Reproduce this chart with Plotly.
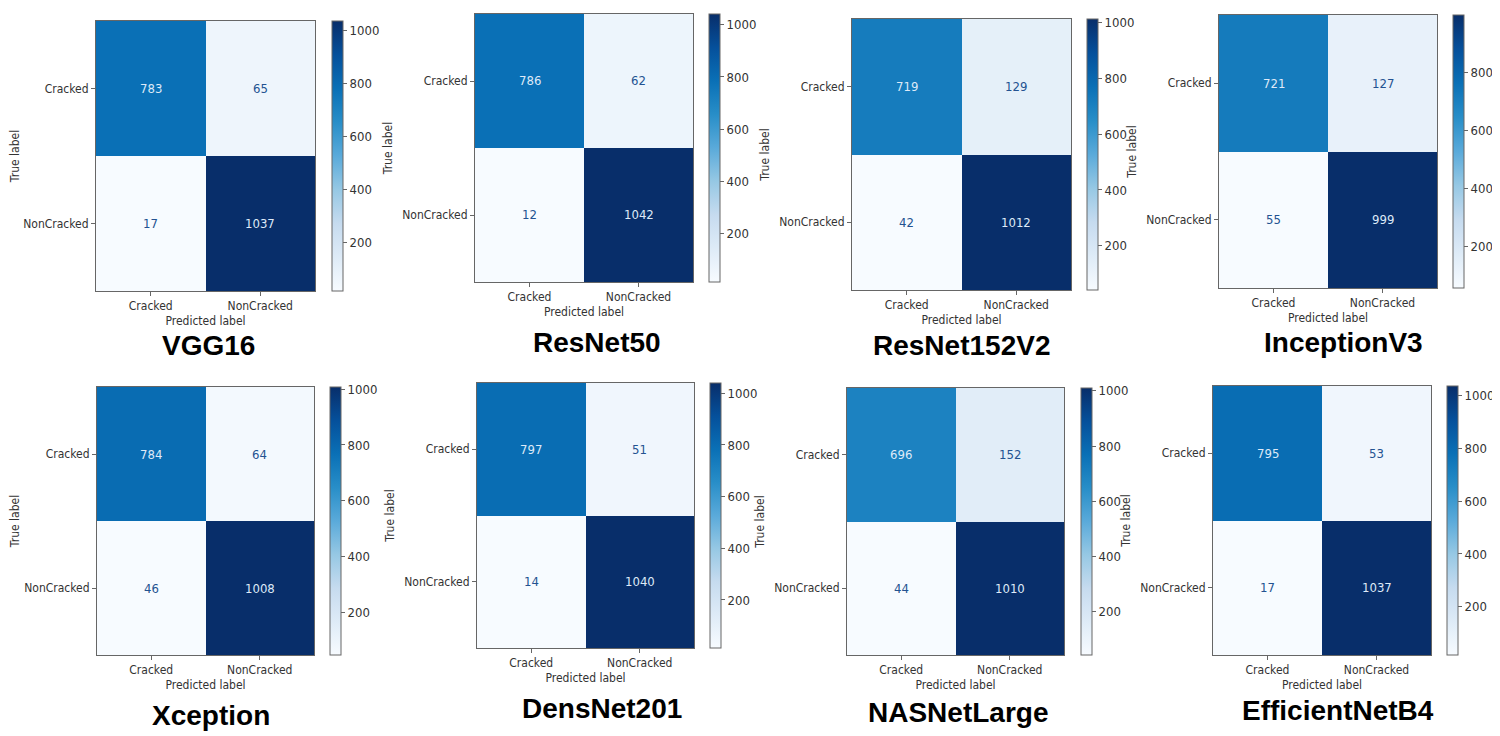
import plotly.graph_objects as go

# ---------------- data ----------------
models = ["VGG16", "ResNet50", "ResNet152V2", "InceptionV3",
          "Xception", "DensNet201", "NASNetLarge", "EfficientNetB4"]
classes = ["Cracked", "NonCracked"]
tp = [783, 786, 719, 721, 784, 797, 696, 795]      # true Cracked, pred Cracked
fn = [65, 62, 129, 127, 64, 51, 152, 53]           # true Cracked, pred NonCracked
fp = [17, 12, 42, 55, 46, 14, 44, 17]              # true NonCracked, pred Cracked
tn = [1037, 1042, 1012, 999, 1008, 1040, 1010, 1037]  # true NonCracked, pred NonCracked
cbar_dtick = 200

# ---------------- layout geometry (pixels in the screenshot) ----------------
PAGE_PAD = 8                      # default body margin of the html page
W, H = 1500 - PAGE_PAD, 736 - PAGE_PAD
# left, right, top, bottom of heatmap, colorbar left/right, title centre x/y
geom = [
    (96, 315, 21, 291, 332, 343, 208, 345),
    (475, 693, 14, 282, 709, 720, 597, 343),
    (852, 1071, 19, 290, 1087, 1098, 961, 345),
    (1219, 1437, 15, 288, 1453, 1464, 1343, 343),
    (97, 314, 387, 655, 330, 341, 211, 715),
    (477, 694, 383, 648, 710, 721, 602, 708),
    (847, 1064, 388, 655, 1081, 1092, 958, 712),
    (1213, 1431, 386, 655, 1447, 1458, 1338, 710),
]

blues = [
    [0.0, "rgb(247,251,255)"], [0.125, "rgb(222,235,247)"],
    [0.25, "rgb(198,219,239)"], [0.375, "rgb(150,200,228)"],
    [0.5, "rgb(90,170,218)"], [0.625, "rgb(40,142,200)"],
    [0.75, "rgb(10,112,182)"], [0.875, "rgb(5,80,155)"],
    [1.0, "rgb(8,46,106)"],
]
small_font = "DejaVu Sans Condensed, DejaVu Sans, sans-serif"
txt_col = "#333333"
line_col = "#666666"
light_txt = "rgb(222,234,248)"
dark_txt = "rgb(35,82,145)"


def px_x(v):
    return (v - PAGE_PAD) / W


def px_y(v):
    return 1 - (v - PAGE_PAD) / H


fig = go.Figure()
annotations = []
layout = dict(width=W, height=H,
              margin=dict(l=0, r=0, t=0, b=0, autoexpand=False),
              paper_bgcolor="white", plot_bgcolor="white", showlegend=False)

for i, name in enumerate(models):
    L, R, T, B, cl, cr, tcx, tcy = geom[i]
    z = [[tp[i], fn[i]], [fp[i], tn[i]]]
    zmin = min(min(r) for r in z)
    zmax = max(max(r) for r in z)
    thresh = (zmin + zmax) / 2
    ax = "" if i == 0 else str(i + 1)
    fig.add_trace(go.Heatmap(
        z=z, x=classes, y=classes, zmin=zmin, zmax=zmax,
        colorscale=blues, xaxis="x" + ax, yaxis="y" + ax,
        hoverinfo="skip",
        colorbar=dict(
            x=px_x(cl), xanchor="left", y=px_y((T + B) / 2), yanchor="middle",
            len=B - T, lenmode="pixels", thickness=cr - cl, thicknessmode="pixels",
            xpad=0, ypad=0, outlinewidth=1, outlinecolor=line_col,
            ticks="outside", ticklen=4, tickcolor=line_col,
            tick0=0, dtick=cbar_dtick,
            tickfont=dict(family=small_font, size=13, color=txt_col),
        ),
    ))
    common = dict(showline=True, mirror=True, linecolor=line_col, linewidth=1,
                  showgrid=False, zeroline=False, ticks="outside", ticklen=4,
                  tickcolor=line_col, type="category",
                  tickfont=dict(family=small_font, size=12, color=txt_col))
    layout["xaxis" + ax] = dict(
        common, domain=[px_x(L), px_x(R)], anchor="y" + ax, range=[-0.5, 1.5],
        title=dict(text="Predicted label", standoff=4,
                   font=dict(family=small_font, size=12, color=txt_col)))
    layout["yaxis" + ax] = dict(
        common, domain=[px_y(B), px_y(T)], anchor="x" + ax,
        range=[1.5, -0.5],
        title=dict(text="True label", standoff=7,
                   font=dict(family=small_font, size=12, color=txt_col)))
    for r, tc in enumerate(classes):
        for c, pc in enumerate(classes):
            v = z[r][c]
            annotations.append(dict(
                x=pc, y=tc, xref="x" + ax, yref="y" + ax, text=str(v),
                showarrow=False,
                font=dict(family=small_font, size=13,
                          color=light_txt if v > thresh else dark_txt)))
    annotations.append(dict(
        x=px_x(tcx), y=px_y(tcy), xref="paper", yref="paper", text="<b>%s</b>" % name,
        showarrow=False, xanchor="center", yanchor="middle",
        font=dict(family="Liberation Sans, Arial, sans-serif", size=28, color="black")))

layout["annotations"] = annotations
fig.update_layout(**layout)
fig.write_html("out.html")
